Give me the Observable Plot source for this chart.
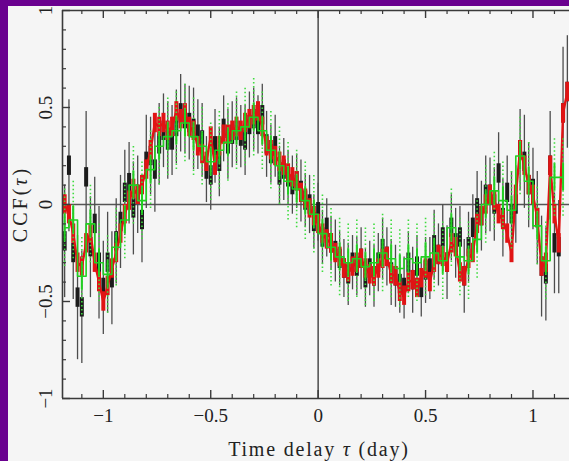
<!DOCTYPE html>
<html><head><meta charset="utf-8">
<script src="https://cdn.jsdelivr.net/npm/d3@7"></script>
<script src="https://cdn.jsdelivr.net/npm/@observablehq/plot@0.6"></script>
<style>
html,body{margin:0;padding:0;background:#6a008f;width:569px;height:461px;overflow:hidden}
#panel{position:absolute;left:8px;top:6px;width:561px;height:455px;background:#f5f5f5;overflow:hidden}
</style></head><body><div id="panel"></div>
<script>
// ---- data ----
const tau = [
 -1.18,-1.16,-1.14,-1.12,-1.10,-1.08,-1.06,-1.04,-1.02,-1.00,
 -0.98,-0.96,-0.94,-0.92,-0.90,-0.88,-0.86,-0.84,-0.82,-0.80,
 -0.78,-0.76,-0.74,-0.72,-0.70,-0.68,-0.66,-0.64,-0.62,-0.60,
 -0.58,-0.56,-0.54,-0.52,-0.50,-0.48,-0.46,-0.44,-0.42,-0.40,
 -0.38,-0.36,-0.34,-0.32,-0.30,-0.28,-0.26,-0.24,-0.22,-0.20,
 -0.18,-0.16,-0.14,-0.12,-0.10,-0.08,-0.06,-0.04,-0.02,0.00,
 0.02,0.04,0.06,0.08,0.10,0.12,0.14,0.16,0.18,0.20,
 0.22,0.24,0.26,0.28,0.30,0.32,0.34,0.36,0.38,0.40,
 0.42,0.44,0.46,0.48,0.50,0.52,0.54,0.56,0.58,0.60,
 0.62,0.64,0.66,0.68,0.70,0.72,0.74,0.76,0.78,0.80,
 0.82,0.84,0.86,0.88,0.90,0.92,0.94,0.96,0.98,1.00,
 1.02,1.04,1.06,1.08,1.10,1.12,1.14,1.16];
const ccfBlack = [
 -0.19,0.20,-0.25,-0.48,-0.53,0.14,-0.22,-0.10,-0.30,-0.43,
 -0.30,-0.38,-0.19,-0.09,0.06,0.11,-0.02,0.05,-0.08,0.22,
 0.25,0.18,0.31,0.38,0.33,0.33,0.40,0.47,0.44,0.42,
 0.39,0.36,0.33,0.18,0.15,0.30,0.22,0.39,0.31,0.36,
 0.38,0.35,0.33,0.41,0.44,0.41,0.46,0.31,0.26,0.30,
 0.15,0.18,0.14,0.10,0.12,0.07,0.02,0.00,-0.09,-0.04,
 -0.17,-0.12,-0.20,-0.24,-0.28,-0.33,-0.36,-0.30,-0.32,-0.28,
 -0.38,-0.33,-0.37,-0.30,-0.23,-0.27,-0.35,-0.37,-0.41,-0.43,
 -0.30,-0.39,-0.32,-0.43,-0.34,-0.33,-0.21,-0.26,-0.17,-0.30,
 -0.12,-0.20,-0.17,-0.37,-0.22,-0.12,-0.02,-0.06,0.05,0.05,
 0.00,0.16,-0.07,0.06,-0.05,0.00,0.28,0.22,0.10,0.08,
 -0.07,-0.32,-0.36,0.20,-0.20,-0.22,0.47,0.58];
const errBlack = [
 0.29,0.34,0.24,0.32,0.29,0.34,0.26,0.24,0.29,0.24,
 0.26,0.24,0.22,0.24,0.22,0.21,0.24,0.20,0.22,0.24,
 0.20,0.22,0.21,0.19,0.20,0.18,0.19,0.20,0.18,0.19,
 0.21,0.18,0.19,0.17,0.18,0.19,0.18,0.17,0.18,0.17,
 0.17,0.16,0.18,0.17,0.16,0.15,0.16,0.17,0.15,0.16,
 0.15,0.16,0.14,0.15,0.14,0.16,0.14,0.15,0.14,0.15,
 0.14,0.15,0.14,0.16,0.14,0.15,0.16,0.14,0.15,0.16,
 0.15,0.14,0.16,0.15,0.16,0.15,0.17,0.16,0.15,0.16,
 0.16,0.17,0.16,0.15,0.17,0.16,0.18,0.16,0.17,0.19,
 0.17,0.18,0.16,0.19,0.18,0.17,0.19,0.18,0.20,0.19,
 0.19,0.21,0.20,0.19,0.22,0.20,0.21,0.24,0.22,0.21,
 0.24,0.26,0.24,0.28,0.26,0.24,0.34,0.29];
const boxBlack = 0.05;
const ccfRed = [
 0.00,-0.05,-0.15,-0.30,-0.32,-0.20,-0.15,-0.30,-0.40,-0.50,
 -0.42,-0.33,-0.25,-0.15,-0.05,0.02,0.08,0.05,0.10,0.18,
 0.28,0.42,0.40,0.42,0.38,0.40,0.48,0.44,0.47,0.40,
 0.38,0.30,0.26,0.22,0.35,0.20,0.30,0.36,0.36,0.38,
 0.40,0.38,0.42,0.44,0.46,0.48,0.40,0.30,0.28,0.25,
 0.22,0.20,0.16,0.14,0.12,0.06,0.03,-0.02,-0.06,-0.10,
 -0.15,-0.18,-0.20,-0.25,-0.27,-0.33,-0.35,-0.32,-0.30,-0.28,
 -0.33,-0.36,-0.37,-0.33,-0.28,-0.27,-0.36,-0.37,-0.45,-0.47,
 -0.40,-0.39,-0.43,-0.38,-0.33,-0.40,-0.30,-0.26,-0.27,-0.30,
 -0.20,-0.22,-0.35,-0.37,-0.28,-0.25,-0.10,-0.06,0.00,0.05,
 0.02,-0.05,-0.08,-0.15,-0.25,0.05,0.28,0.20,0.10,0.05,
 -0.07,-0.32,-0.30,0.20,-0.05,-0.20,0.47,0.58];
const errRed = 0.05;
const tauGreen = [
 -1.18,-1.14,-1.10,-1.06,-1.02,-0.98,-0.94,-0.90,-0.86,-0.82,
 -0.78,-0.74,-0.70,-0.66,-0.62,-0.58,-0.54,-0.50,-0.46,-0.42,
 -0.38,-0.34,-0.30,-0.26,-0.22,-0.18,-0.14,-0.10,-0.06,-0.02,
 0.02,0.06,0.10,0.14,0.18,0.22,0.26,0.30,0.34,0.38,
 0.42,0.46,0.50,0.54,0.58,0.62,0.66,0.70,0.74,0.78,
 0.82,0.86,0.90,0.94,0.98,1.02,1.06,1.10,1.14];
const ccfGreen = [
 -0.12,-0.08,-0.37,-0.10,-0.30,-0.36,-0.22,-0.08,0.10,0.02,
 0.18,0.30,0.35,0.38,0.42,0.35,0.30,0.22,0.28,0.32,
 0.38,0.40,0.45,0.38,0.28,0.20,0.12,0.08,0.02,-0.05,
 -0.15,-0.22,-0.27,-0.30,-0.28,-0.32,-0.30,-0.25,-0.28,-0.33,
 -0.28,-0.30,-0.27,-0.25,-0.29,-0.12,-0.27,-0.29,-0.18,0.00,
 0.07,0.02,-0.03,0.25,0.12,-0.11,-0.29,0.14,0.14];
const errGreenInner = 0.07;
const errGreenOuter = 0.2;

const xDomain = [-1.19, 1.17];
const yDomain = [-1, 1];
const xMajor = [-1, -0.5, 0, 0.5, 1];
const xMinor = [-1.1, -0.9, -0.8, -0.7, -0.6, -0.4, -0.3, -0.2, -0.1, 0.1, 0.2, 0.3, 0.4, 0.6, 0.7, 0.8, 0.9, 1.1];
const xTickLabels = ["\u22121", "\u22120.5", "0", "0.5", "1"];
const yMajor = [-1, -0.5, 0, 0.5, 1];
const yMinor = [-0.9, -0.8, -0.7, -0.6, -0.4, -0.3, -0.2, -0.1, 0.1, 0.2, 0.3, 0.4, 0.6, 0.7, 0.8, 0.9];
const yTickLabels = ["\u22121", "\u22120.5", "0", "0.5", "1"];

// ---- build tables ----
const black = tau.map((t, i) => ({t, v: ccfBlack[i], e: errBlack[i]}));
const red = tau.map((t, i) => ({t, v: ccfRed[i]}));
const green = tauGreen.map((t, i) => ({t, v: ccfGreen[i]}));

const W = 561, H = 455, mL = 54, mR = 0, mT = 4, mB = 63;
const innerW = W - mL - mR, innerH = H - mT - mB;
const font = "'Liberation Serif', 'Times New Roman', serif";
const axisColor = "#3a3a3a";

const chart = Plot.plot({
  width: W, height: H,
  marginLeft: mL, marginRight: mR, marginTop: mT, marginBottom: mB,
  x: {domain: xDomain, axis: null},
  y: {domain: yDomain, axis: null},
  style: {background: "transparent", fontFamily: font, color: "#222", overflow: "visible"},
  marks: [
    Plot.ruleY([0], {stroke: "#555", strokeWidth: 1.6}),
    Plot.ruleX([0], {stroke: "#555", strokeWidth: 1.6}),
    // black
    Plot.ruleX(black, {x: "t", y1: d => d.v - d.e, y2: d => d.v + d.e, stroke: "#4d4d4d", strokeWidth: 1.3, clip: true}),
    Plot.ruleX(black, {x: "t", y1: d => d.v - boxBlack, y2: d => d.v + boxBlack, stroke: "#1c1c1c", strokeWidth: 4, clip: true}),
    // red
    Plot.line(red, {x: "t", y: "v", stroke: "#e01414", strokeWidth: 2.4, clip: true}),
    Plot.ruleX(red, {x: "t", y1: d => d.v - errRed, y2: d => d.v + errRed, stroke: "#e01414", strokeWidth: 4, clip: true}),
    // green
    Plot.ruleX(green, {x: "t", y1: d => d.v - errGreenOuter, y2: d => d.v + errGreenOuter, stroke: "#3fdc3f", strokeWidth: 1.6, strokeDasharray: "1.5,2.5", clip: true}),
    Plot.ruleX(green, {x: "t", y1: d => d.v - errGreenInner, y2: d => d.v + errGreenInner, stroke: "#22d022", strokeWidth: 2, clip: true}),
    Plot.line(green, {x: "t", y: "v", curve: "step", stroke: "#22d022", strokeWidth: 1.6, clip: true}),
    // frame (left, top, bottom)
    Plot.ruleX([xDomain[0]], {stroke: axisColor, strokeWidth: 1.6}),
    Plot.ruleY(yDomain, {stroke: axisColor, strokeWidth: 1.6}),
    // inward ticks
    Plot.tickX(xMajor, {x: d => d, insetTop: innerH - 8, stroke: axisColor, strokeWidth: 1.4}),
    Plot.tickX(xMinor, {x: d => d, insetTop: innerH - 4, stroke: axisColor, strokeWidth: 1.2}),
    Plot.tickX(xMajor, {x: d => d, insetBottom: innerH - 8, stroke: axisColor, strokeWidth: 1.4}),
    Plot.tickX(xMinor, {x: d => d, insetBottom: innerH - 4, stroke: axisColor, strokeWidth: 1.2}),
    Plot.tickY(yMajor, {y: d => d, insetRight: innerW - 8, stroke: axisColor, strokeWidth: 1.4}),
    Plot.tickY(yMinor, {y: d => d, insetRight: innerW - 4, stroke: axisColor, strokeWidth: 1.2}),
    // tick labels
    Plot.text(xMajor, {x: d => d, text: (d, i) => xTickLabels[i], frameAnchor: "bottom", dy: 17, lineAnchor: "middle", fontSize: 19, fill: "#222"}),
    Plot.text(yMajor, {y: d => d, text: (d, i) => yTickLabels[i], frameAnchor: "left", dx: -17, rotate: -90, textAnchor: "middle", lineAnchor: "middle", fontSize: 19, fill: "#222"})
  ]
});
document.getElementById("panel").appendChild(chart);

// axis titles with italic tau
const svg = d3.select(chart);
const xt = svg.append("text")
  .attr("x", 311).attr("y", 450)
  .attr("text-anchor", "middle")
  .attr("font-family", font).attr("font-size", 20).attr("letter-spacing", "1.8px").attr("fill", "#222");
xt.append("tspan").text("Time delay ");
xt.append("tspan").attr("font-style", "italic").text("\u03c4");
xt.append("tspan").text(" (day)");

const yt = svg.append("text")
  .attr("transform", "translate(19,198) rotate(-90)")
  .attr("text-anchor", "middle")
  .attr("font-family", font).attr("font-size", 20).attr("letter-spacing", "3px").attr("fill", "#222");
yt.append("tspan").text("CCF(");
yt.append("tspan").attr("font-style", "italic").text("\u03c4");
yt.append("tspan").text(")");
</script>
</body></html>
